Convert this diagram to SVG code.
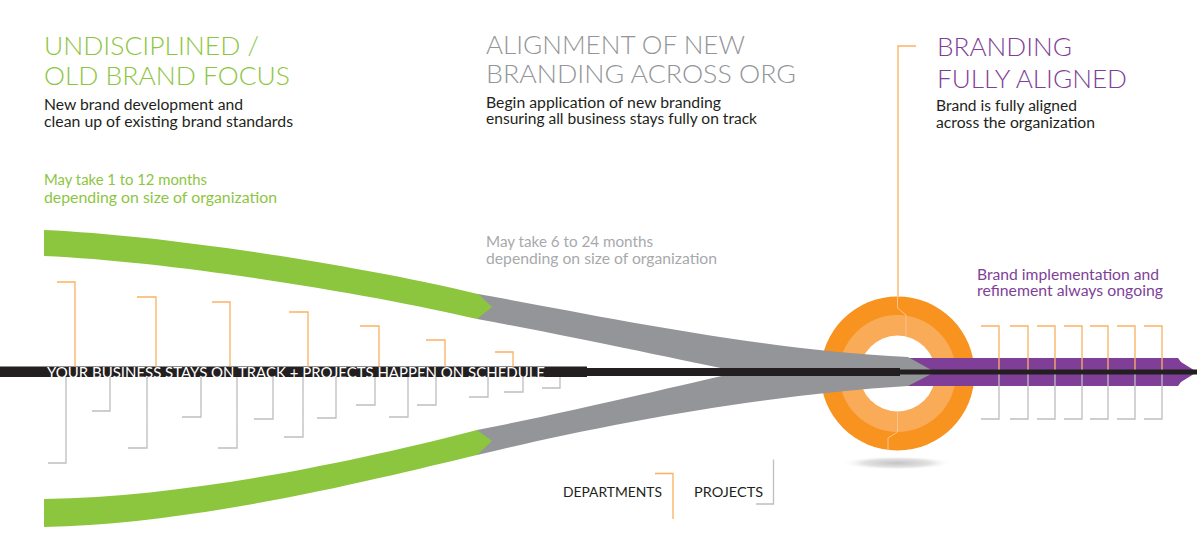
<svg xmlns="http://www.w3.org/2000/svg" width="1200" height="556" viewBox="0 0 1200 556">
<defs>
<radialGradient id="shadow" cx="0.5" cy="0.5" r="0.5">
<stop offset="0" stop-color="#c4c4c6"/>
<stop offset="0.6" stop-color="#e2e2e3"/>
<stop offset="1" stop-color="#ffffff" stop-opacity="0"/>
</radialGradient>
<style>
.head{font-family:Lato,"Liberation Sans",sans-serif;font-weight:300;font-size:26px}
.body{font-family:Lato,"Liberation Sans",sans-serif;font-size:14.5px;fill:#231f20}
.sub{font-family:Lato,"Liberation Sans",sans-serif;font-size:14.5px}
.green{fill:#8cc63f}
.gray{fill:#939598}
.lgray{fill:#a7a9ac}
.purple{fill:#7f3f98}
.ob{fill:none;stroke:#fbb161;stroke-width:1.3}
.gb{fill:none;stroke:#bcbec0;stroke-width:1.3}
.bar{font-family:Lato,"Liberation Sans",sans-serif;font-size:15px;fill:#ffffff}
.leg{font-family:Lato,"Liberation Sans",sans-serif;font-size:13.5px;fill:#231f20}
</style>
</defs>
<rect width="1200" height="556" fill="#ffffff"/>

<g id="ring">
<ellipse cx="897" cy="463" rx="56" ry="7" fill="url(#shadow)"/>
<circle cx="897.5" cy="373.5" r="77" fill="#f7931e"/>
<circle cx="897.5" cy="373.5" r="58.5" fill="#f9ab58"/>
<circle cx="897.5" cy="373.5" r="38" fill="#ffffff"/>
<path d="M897.5,296 V308 L906,315 V335.5" fill="none" stroke="#fcc48a" stroke-width="1"/>
<path d="M897.5,411.5 V432 L888,438 V450.5" fill="none" stroke="#fcc48a" stroke-width="1"/>
</g>

<g id="bands">
<path id="purple-arrow" d="M908,358 L1178,358 L1181,362 L1197,372 L1181,382 L1178,386 L908,386 Z" fill="#7f3f98"/>
<path id="gray-funnel" d="M478,294 C600,316 760,350 908,357 L935,372 L908,386 C760,395 600,425 477,455 L477,430 C580,410 680,385 740,372 C680,360 580,338 477,319 Z" fill="#939598"/>
<path id="green-upper" d="M44,230 C180,236 380,270 478,294 L492,307 L477,319 C380,296 180,262 44,256 Z" fill="#8cc63f"/>
<path id="green-lower" d="M44,499 C200,497 380,455 477,430 L492,441 L477,455 C380,478 200,524 44,527 Z" fill="#8cc63f"/>
</g>

<g id="track">
<rect x="0" y="366.5" width="587" height="10.5" fill="#231f20"/>
<rect x="586" y="368" width="314" height="8" fill="#231f20"/>
<path d="M898,369.5 H1197 V374.5 H898 Z" fill="#231f20"/>
<text class="bar" x="47" y="377.5" textLength="498" lengthAdjust="spacingAndGlyphs">YOUR BUSINESS STAYS ON TRACK + PROJECTS HAPPEN ON SCHEDULE</text>
</g>

<g id="connectors">
<path class="ob" d="M916,46 H898 V296"/>
<path class="ob" d="M57,282 H75 V366.5 M137,297 H156 V366.5 M212,302 H230 V366.5 M289,312 H308 V366.5 M360,326 H379 V366.5 M426,340 H445 V366.5 M495,352 H513 V366.5"/>
<path class="gb" d="M66,377 V463 H48 M110,377 V411 H92 M147,377 V448 H128 M201,377 V417 H182 M237,377 V448 H218 M273,377 V419 H254 M303,377 V437 H284 M336,377 V418 H317 M375,377 V405 H356 M408,377 V417 H389 M436,377 V405 H417 M488,377 V397 H469 M523,377 V392 H504 M560,377 V388 H542"/>
<path class="ob" d="M981,326 H999 V369.5 M1010,326 H1028 V369.5 M1037,326 H1055 V369.5 M1064,326 H1082 V369.5 M1090,326 H1108 V369.5 M1117,326 H1135 V369.5 M1144,326 H1162 V369.5"/>
<path class="gb" d="M999,374.5 V419 H981 M1028,374.5 V419 H1010 M1055,374.5 V419 H1037 M1082,374.5 V419 H1064 M1108,374.5 V419 H1090 M1135,374.5 V419 H1117 M1162,374.5 V419 H1144"/>
</g>

<g id="stage1">
<text class="head green" x="44" y="54.5" textLength="215" lengthAdjust="spacingAndGlyphs">UNDISCIPLINED /</text>
<text class="head green" x="44" y="84.5" textLength="246" lengthAdjust="spacingAndGlyphs">OLD BRAND FOCUS</text>
<text class="body" x="44" y="110" textLength="199" lengthAdjust="spacingAndGlyphs">New brand development and</text>
<text class="body" x="44" y="127" textLength="249" lengthAdjust="spacingAndGlyphs">clean up of existing brand standards</text>
<text class="sub green" x="44" y="185" textLength="163" lengthAdjust="spacingAndGlyphs">May take 1 to 12 months</text>
<text class="sub green" x="44" y="202.5" textLength="233" lengthAdjust="spacingAndGlyphs">depending on size of organization</text>
</g>

<g id="stage2">
<text class="head gray" x="486" y="54" textLength="259" lengthAdjust="spacingAndGlyphs">ALIGNMENT OF NEW</text>
<text class="head gray" x="486" y="83" textLength="310" lengthAdjust="spacingAndGlyphs">BRANDING ACROSS ORG</text>
<text class="body" x="486" y="107.5" textLength="235" lengthAdjust="spacingAndGlyphs">Begin application of new branding</text>
<text class="body" x="486" y="124" textLength="271" lengthAdjust="spacingAndGlyphs">ensuring all business stays fully on track</text>
<text class="sub lgray" x="486" y="247" textLength="167" lengthAdjust="spacingAndGlyphs">May take 6 to 24 months</text>
<text class="sub lgray" x="486" y="264" textLength="231" lengthAdjust="spacingAndGlyphs">depending on size of organization</text>
</g>

<g id="stage3">
<text class="head purple" x="937" y="56" textLength="135" lengthAdjust="spacingAndGlyphs">BRANDING</text>
<text class="head purple" x="937" y="88" textLength="190" lengthAdjust="spacingAndGlyphs">FULLY ALIGNED</text>
<text class="body" x="936" y="110.5" textLength="141" lengthAdjust="spacingAndGlyphs">Brand is fully aligned</text>
<text class="body" x="936" y="128" textLength="159" lengthAdjust="spacingAndGlyphs">across the organization</text>
<text class="sub purple" x="977" y="279.5" textLength="182" lengthAdjust="spacingAndGlyphs">Brand implementation and</text>
<text class="sub purple" x="977" y="296" textLength="186" lengthAdjust="spacingAndGlyphs">refinement always ongoing</text>
</g>

<g id="legend">
<text class="leg" x="563" y="496.5" textLength="99" lengthAdjust="spacingAndGlyphs">DEPARTMENTS</text>
<path class="ob" d="M655,473.5 H673 V519"/>
<text class="leg" x="694" y="496.5" textLength="69" lengthAdjust="spacingAndGlyphs">PROJECTS</text>
<path class="gb" d="M773.5,459.5 V504 H756"/>
</g>
</svg>
